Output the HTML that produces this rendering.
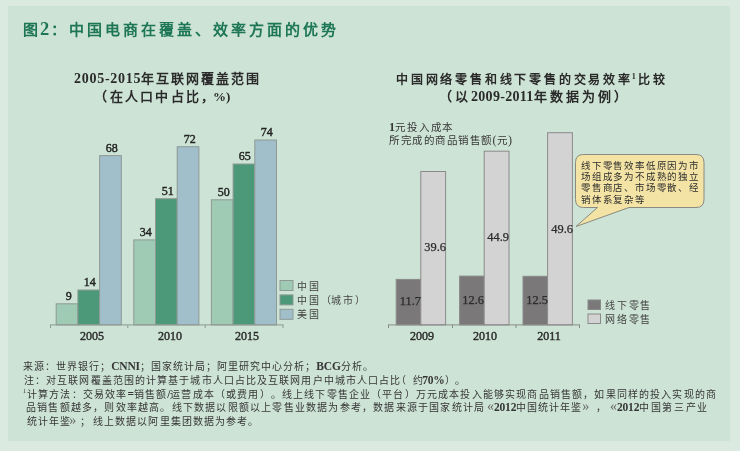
<!DOCTYPE html>
<html lang="zh-CN">
<head>
<meta charset="utf-8">
<style>
html,body{margin:0;padding:0;}
body{width:740px;height:451px;overflow:hidden;background:#dbeae1;position:relative;font-family:"Liberation Serif",serif;color:#2a2a2a;}
#panel{position:absolute;left:8px;top:6px;width:722px;height:435px;background:#cde3d6;}
.t{position:absolute;white-space:nowrap;line-height:1;will-change:transform;text-spacing-trim:space-all;}
svg{position:absolute;left:0;top:0;}
#title{left:24px;top:20px;font-size:16px;font-weight:bold;color:#1d7656;letter-spacing:1.2px;}
.ct{font-size:14px;font-weight:bold;color:#2a2a2a;}
.lab{font-size:12px;color:#2a2a2a;}
.yr{font-size:12px;font-weight:bold;color:#333;}
.leg{font-size:11px;color:#333;letter-spacing:0.8px;}
.fn{font-size:10.5px;color:#333;}
.g{font-size:14px;font-weight:normal;color:#666;letter-spacing:0;}
.t span{line-height:0;}
</style>
</head>
<body>
<div id="panel"></div>
<svg width="740" height="451" viewBox="0 0 740 451">
<g stroke="#8e9a94" stroke-width="1">
<rect x="56.20" y="303.80" width="21.70" height="21.10" fill="#9fcbb4"/>
<rect x="77.90" y="290.00" width="21.70" height="34.90" fill="#4c9979"/>
<rect x="99.60" y="155.60" width="21.70" height="169.30" fill="#a0bfca"/>
<rect x="133.80" y="239.90" width="21.70" height="85.00" fill="#9fcbb4"/>
<rect x="155.50" y="198.70" width="21.70" height="126.20" fill="#4c9979"/>
<rect x="177.20" y="146.70" width="21.70" height="178.20" fill="#a0bfca"/>
<rect x="211.40" y="199.80" width="21.70" height="125.10" fill="#9fcbb4"/>
<rect x="233.10" y="164.00" width="21.70" height="160.90" fill="#4c9979"/>
<rect x="254.80" y="140.00" width="21.70" height="184.90" fill="#a0bfca"/>
<rect x="280" y="280.50" width="13" height="10" fill="#9fcbb4"/>
<rect x="280" y="294.90" width="13" height="10" fill="#4c9979"/>
<rect x="280" y="309.30" width="13" height="10" fill="#a0bfca"/>
</g>
<path d="M50 324.9H283.5M50.5 324.9V328M127.8 324.9V328M205.2 324.9V328M283 324.9V328" stroke="#8e9a94" stroke-width="1" fill="none"/>
<g stroke="#8a8a8a" stroke-width="1">
<rect x="396.20" y="279.40" width="24.60" height="45.50" fill="#7a7878"/>
<rect x="420.80" y="171.50" width="24.80" height="153.40" fill="#d4d3d3"/>
<rect x="459.60" y="276.10" width="24.60" height="48.80" fill="#7a7878"/>
<rect x="484.20" y="151.20" width="24.80" height="173.70" fill="#d4d3d3"/>
<rect x="523.00" y="276.30" width="24.60" height="48.60" fill="#7a7878"/>
<rect x="547.60" y="132.70" width="24.80" height="192.20" fill="#d4d3d3"/>
<rect x="588" y="300" width="12.5" height="9.5" fill="#7a7878"/>
<rect x="588" y="314" width="12.5" height="9.5" fill="#d4d3d3"/>
</g>
<path d="M388 324.9H580M388.5 324.9V328M452.5 324.9V328M516 324.9V328M579.5 324.9V328" stroke="#8a8a8a" stroke-width="1" fill="none"/>
<path d="M583.5 154.5H696Q704 154.5 704 162.5V199.5Q704 207.5 696 207.5H629L576 226.5L597.5 207.5H583.5Q575.5 207.5 575.5 199.5V162.5Q575.5 154.5 583.5 154.5Z" fill="#f3e3a4" stroke="#8a8a80" stroke-width="1"/>
</svg>

<div class="t" style="left:23.00px;top:23.00px;font-size:15.00px;letter-spacing:3.00px;font-weight:bold;color:#1d7656;">图<span style="font-size:18.5px;letter-spacing:1.25px;margin-left:-1px">2</span>：中国电商在覆盖、效率方面的优势</div>
<div class="t" style="left:74.00px;top:72.00px;font-size:13.00px;letter-spacing:2.00px;font-weight:bold;"><span style="font-size:14.00px;letter-spacing:0.72px;">2005-2015</span>年互联网覆盖范围</div>
<div class="t" style="left:93.50px;top:89.60px;font-size:13.00px;letter-spacing:2.20px;font-weight:bold;"><span style="letter-spacing:2.7px">（</span>在人口中占比，<span style="margin-left:-3px"></span><span style="font-size:13.00px;letter-spacing:0.00px;">%)</span></div>
<div class="t" style="left:396.00px;top:72.60px;font-size:12.00px;letter-spacing:2.80px;font-weight:bold;">中国网络零售和线下零售的交易效率<sup style="font-size:8px;vertical-align:5px;letter-spacing:0;margin-left:-1px;margin-right:2px">1</sup>比较</div>
<div class="t" style="left:439.00px;top:90.00px;font-size:13.00px;letter-spacing:3.00px;font-weight:bold;">（以<span style="font-size:14.00px;letter-spacing:0.30px;">2009-2011</span>年数据为例）</div>
<div class="t" style="left:389.00px;top:123.00px;font-size:10.50px;letter-spacing:1.85px;color:#383838;"><span style="font-size:12.00px;letter-spacing:0.00px;font-weight:bold;">1</span>元投入成本</div>
<div class="t" style="left:389.00px;top:136.00px;font-size:10.50px;letter-spacing:1.50px;color:#383838;">所完成的商品销售额<span style="font-size:12.00px;letter-spacing:0.00px;">(</span>元<span style="font-size:12.00px;letter-spacing:0.00px;">)</span></div>
<div class="t" style="left:581.00px;top:162.00px;font-size:9.50px;letter-spacing:0.80px;color:#2e2e2e;">线下零售效率低原因为市</div>
<div class="t" style="left:581.00px;top:173.20px;font-size:9.50px;letter-spacing:0.80px;color:#2e2e2e;">场组成多为不成熟的独立</div>
<div class="t" style="left:581.00px;top:184.40px;font-size:9.50px;letter-spacing:0.80px;color:#2e2e2e;">零售商店、市场零散、经</div>
<div class="t" style="left:581.00px;top:195.60px;font-size:9.50px;letter-spacing:0.80px;color:#2e2e2e;">销体系复杂等</div>
<div class="t" style="left:23.00px;top:361.70px;font-size:10.00px;letter-spacing:1.03px;color:#363636;">来源：世界银行；<span style="font-size:11.50px;letter-spacing:-0.20px;font-weight:bold;color:#363636;">CNNI</span>；国家统计局；阿里研究中心分析；<span style="font-size:11.50px;letter-spacing:-0.20px;font-weight:bold;color:#363636;">BCG</span>分析。</div>
<div class="t" style="left:27.00px;top:389.50px;font-size:10.00px;letter-spacing:1.16px;color:#363636;">计算方法：交易效率<span style="font-size:11.50px;letter-spacing:-0.20px;font-weight:bold;color:#363636;">=</span>销售额<span style="font-size:11.50px;letter-spacing:-0.20px;font-weight:bold;color:#363636;">/</span>运营成本（或费用）。线上线下零售企业（平台）万元成本投入能够实现商品销售额，如果同样的投入实现的商</div>
<div class="t" style="left:23.60px;top:375.60px;font-size:10.00px;letter-spacing:1.10px;color:#363636;">注：对互联网覆盖范围的计算基于城市人口占比及互联网用户中城市人口占比</div>
<div class="t" style="left:396.00px;top:375.60px;font-size:10.00px;letter-spacing:1.00px;color:#363636;"><span style="letter-spacing:6.5px">（</span><span style="letter-spacing:-0.3px">约</span><span style="font-size:11.50px;letter-spacing:-0.20px;font-weight:bold;color:#363636;">70%</span><span style="letter-spacing:0.5px">）</span>。</div>
<div class="t" style="left:25.50px;top:403.40px;font-size:10.00px;letter-spacing:1.20px;color:#363636;">品销售额越多，则效率越高。线下数据以限额以上零售业数据为参考，数据来源于国家统计局</div>
<div class="t" style="left:486.80px;top:403.40px;font-size:10.00px;letter-spacing:1.02px;color:#363636;"><span class="g">«</span><span style="font-size:11.50px;letter-spacing:-0.20px;font-weight:bold;color:#363636;">2012</span>中国统计年鉴<span class="g">»</span><span style="margin-left:6.5px">，</span></div>
<div class="t" style="left:610.10px;top:403.40px;font-size:10.00px;letter-spacing:1.62px;color:#363636;"><span class="g">«</span><span style="font-size:11.50px;letter-spacing:-0.20px;font-weight:bold;color:#363636;">2012</span>中国第三产业</div>
<div class="t" style="left:26.70px;top:417.30px;font-size:10.00px;letter-spacing:1.03px;color:#363636;">统计年鉴<span class="g" style="margin-left:-2px">»</span><span style="margin-left:3.5px">；</span></div>
<div class="t" style="left:93.00px;top:417.30px;font-size:10.00px;letter-spacing:1.10px;color:#363636;">线上数据以阿里集团数据为参考。</div>
<div class="t" style="left:57.50px;top:289.75px;font-size:12.00px;width:21.70px;text-align:center;color:#222;-webkit-text-stroke:0.4px #222;">9</div>
<div class="t" style="left:79.20px;top:275.95px;font-size:12.00px;width:21.70px;text-align:center;color:#222;-webkit-text-stroke:0.4px #222;">14</div>
<div class="t" style="left:100.90px;top:141.55px;font-size:12.00px;width:21.70px;text-align:center;color:#222;-webkit-text-stroke:0.4px #222;">68</div>
<div class="t" style="left:135.10px;top:225.85px;font-size:12.00px;width:21.70px;text-align:center;color:#222;-webkit-text-stroke:0.4px #222;">34</div>
<div class="t" style="left:156.80px;top:184.65px;font-size:12.00px;width:21.70px;text-align:center;color:#222;-webkit-text-stroke:0.4px #222;">51</div>
<div class="t" style="left:178.50px;top:132.65px;font-size:12.00px;width:21.70px;text-align:center;color:#222;-webkit-text-stroke:0.4px #222;">72</div>
<div class="t" style="left:212.70px;top:185.75px;font-size:12.00px;width:21.70px;text-align:center;color:#222;-webkit-text-stroke:0.4px #222;">50</div>
<div class="t" style="left:234.40px;top:149.95px;font-size:12.00px;width:21.70px;text-align:center;color:#222;-webkit-text-stroke:0.4px #222;">65</div>
<div class="t" style="left:256.10px;top:125.95px;font-size:12.00px;width:21.70px;text-align:center;color:#222;-webkit-text-stroke:0.4px #222;">74</div>
<div class="t" style="left:71.90px;top:329.55px;font-size:12.00px;width:40.00px;text-align:center;color:#2e2e2e;-webkit-text-stroke:0.45px #2e2e2e;">2005</div>
<div class="t" style="left:149.75px;top:329.55px;font-size:12.00px;width:40.00px;text-align:center;color:#2e2e2e;-webkit-text-stroke:0.45px #2e2e2e;">2010</div>
<div class="t" style="left:227.45px;top:329.55px;font-size:12.00px;width:40.00px;text-align:center;color:#2e2e2e;-webkit-text-stroke:0.45px #2e2e2e;">2015</div>
<div class="t" style="left:402.10px;top:329.55px;font-size:12.00px;width:40.00px;text-align:center;color:#2e2e2e;-webkit-text-stroke:0.45px #2e2e2e;">2009</div>
<div class="t" style="left:465.40px;top:329.55px;font-size:12.00px;width:40.00px;text-align:center;color:#2e2e2e;-webkit-text-stroke:0.45px #2e2e2e;">2010</div>
<div class="t" style="left:528.60px;top:329.55px;font-size:12.00px;width:40.00px;text-align:center;color:#2e2e2e;-webkit-text-stroke:0.45px #2e2e2e;">2011</div>
<div class="t" style="left:381.00px;top:294.91px;font-size:12.40px;width:40.00px;text-align:right;color:#2b2b2b;-webkit-text-stroke:0.25px #2b2b2b;">11.7</div>
<div class="t" style="left:405.80px;top:241.31px;font-size:12.40px;width:40.00px;text-align:right;color:#2b2b2b;-webkit-text-stroke:0.25px #2b2b2b;">39.6</div>
<div class="t" style="left:444.40px;top:293.91px;font-size:12.40px;width:40.00px;text-align:right;color:#2b2b2b;-webkit-text-stroke:0.25px #2b2b2b;">12.6</div>
<div class="t" style="left:469.20px;top:231.21px;font-size:12.40px;width:40.00px;text-align:right;color:#2b2b2b;-webkit-text-stroke:0.25px #2b2b2b;">44.9</div>
<div class="t" style="left:507.80px;top:293.91px;font-size:12.40px;width:40.00px;text-align:right;color:#2b2b2b;-webkit-text-stroke:0.25px #2b2b2b;">12.5</div>
<div class="t" style="left:532.60px;top:222.71px;font-size:12.40px;width:40.00px;text-align:right;color:#2b2b2b;-webkit-text-stroke:0.25px #2b2b2b;">49.6</div>
<div class="t" style="left:296.60px;top:282.00px;font-size:10.00px;letter-spacing:2.10px;color:#444;">中国</div>
<div class="t" style="left:296.60px;top:296.00px;font-size:10.00px;letter-spacing:2.10px;color:#444;">中国<span style="letter-spacing:-0.2px">（</span>城市）</div>
<div class="t" style="left:296.60px;top:310.00px;font-size:10.00px;letter-spacing:2.10px;color:#444;">美国</div>
<div class="t" style="left:605.00px;top:301.00px;font-size:10.00px;letter-spacing:1.80px;color:#444;">线下零售</div>
<div class="t" style="left:605.00px;top:315.20px;font-size:10.00px;letter-spacing:1.80px;color:#444;">网络零售</div>
<div class="t" style="left:22.60px;top:387.78px;font-size:6.00px;color:#333;">1</div>

</body>
</html>
